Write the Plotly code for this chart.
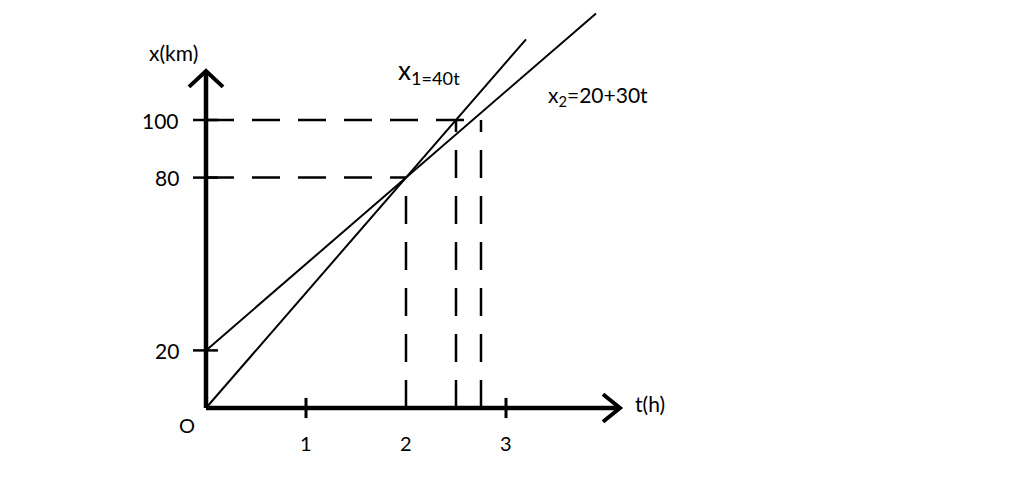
import plotly.graph_objects as go

# ---- data ----
t_ticks = [1, 2, 3]
t_tick_labels = ["1", "2", "3"]
x_ticks = [20, 80, 100]
x_tick_labels = ["20", "80", "100"]
# x1 = 40 t ; x2 = 20 + 30 t
x1_t = [0, 3.2]
x1_x = [40 * t for t in x1_t]
x2_t = [0, 3.9]
x2_x = [20 + 30 * t for t in x2_t]
# guide points (time, position)
guide_t = [2, 2.5, 2.75]
guide_x = [80, 100, 100]

T_MAX = 4.14
X_MAX = 117

FONT = "Lato"
W, H = 1008, 464
fig = go.Figure()

def seg(xs, ys, width=2, dash=None):
    fig.add_trace(go.Scatter(x=xs, y=ys, mode="lines", hoverinfo="skip",
                             line=dict(color="black", width=width, dash=dash),
                             showlegend=False))

# axes
seg([0, T_MAX], [0, 0], width=4.5)
seg([0, 0], [0, X_MAX], width=4.5)
# arrowheads (open chevrons)
seg([T_MAX - 0.17, T_MAX, T_MAX - 0.17], [4.8, 0, -4.8], width=4)
seg([-0.17, 0, 0.17], [X_MAX - 5.5, X_MAX, X_MAX - 5.5], width=4)

# tick marks
for t in [1, 3]:
    seg([t, t], [-3.5, 3.5], width=3)
for v in x_ticks:
    seg([-0.13, 0.12], [v, v], width=2.5)

# dashed guides
dash = "28px,18px"
seg([0, guide_t[0]], [guide_x[0], guide_x[0]], width=2.5, dash=dash)
seg([0, guide_t[2]], [guide_x[2], guide_x[2]], width=2.5, dash=dash)
for t, v in zip(guide_t, guide_x):
    seg([t, t], [0, v], width=2.5, dash=dash)

# motion lines
seg(x1_t, x1_x, width=2)
seg(x2_t, x2_x, width=2)

ann = []
for t, lab in zip(t_ticks, t_tick_labels):
    ann.append(dict(x=t, y=-12, text=lab, showarrow=False,
                    xanchor="center", yanchor="middle", font=dict(size=20)))
for v, lab in zip(x_ticks, x_tick_labels):
    ann.append(dict(x=-0.25, y=v, text=lab, showarrow=False,
                    xanchor="right", yanchor="middle", font=dict(size=21)))
ann.append(dict(x=-0.19, y=-6, text="O", showarrow=False,
                xanchor="center", yanchor="middle", font=dict(size=20)))
ann.append(dict(x=-0.33, y=123.6, text="x(km)", showarrow=False,
                xanchor="center", yanchor="middle", font=dict(size=21)))
ann.append(dict(x=4.27, y=1.7, text="t(h)", showarrow=False,
                xanchor="left", yanchor="middle", font=dict(size=21)))
ann.append(dict(x=1.90, y=117, text="x<sub>1=40t</sub>", showarrow=False,
                xanchor="left", yanchor="middle", font=dict(size=26)))
ann.append(dict(x=3.40, y=108.5, text="x<sub>2</sub>=20+30t", showarrow=False,
                xanchor="left", yanchor="middle", font=dict(size=21)))

# page body has an 8px margin: origin at page (206, 408) -> plot (198, 400)
PX_T = 100.0   # px per hour
PX_X = 2.88    # px per km
t0 = -198 / PX_T
x_top = 400 / PX_X

fig.update_layout(
    width=W, height=H,
    margin=dict(l=0, r=0, t=0, b=0),
    paper_bgcolor="white", plot_bgcolor="white",
    font=dict(family=FONT, color="black"),
    xaxis=dict(visible=False, range=[t0, t0 + W / PX_T], fixedrange=True),
    yaxis=dict(visible=False, range=[x_top - H / PX_X, x_top], fixedrange=True),
    annotations=ann,
    showlegend=False,
)
fig.write_html("out.html")
